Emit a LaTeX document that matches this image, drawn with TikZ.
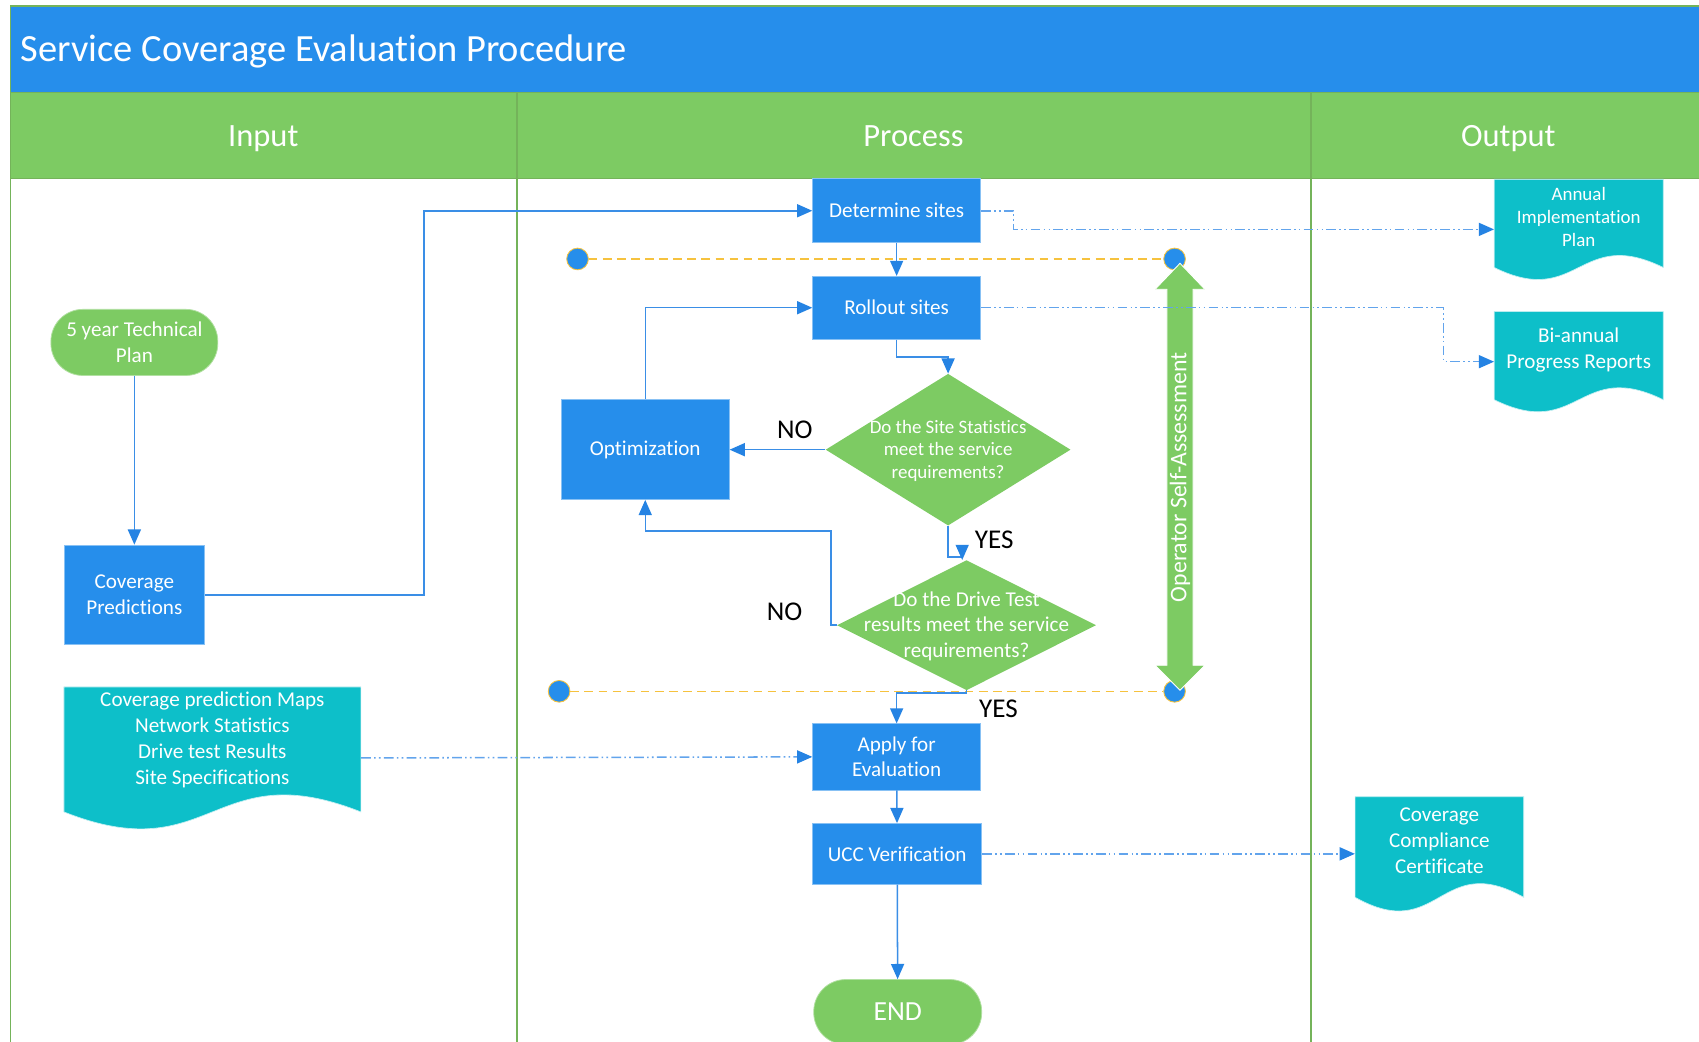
\documentclass[tikz,border=0pt]{standalone}
\usepackage{fontspec}
\setmainfont{Carlito}[Ligatures=NoCommon]
\usetikzlibrary{arrows.meta,shapes.geometric,calc}
\definecolor{cBlue}{HTML}{268EEB}
\definecolor{cGreen}{HTML}{7DCB63}
\definecolor{cTeal}{HTML}{0DBFC9}
\definecolor{cLine}{HTML}{3A8EE6}
\definecolor{cArrow}{HTML}{2583E3}
\definecolor{cLight}{HTML}{62A4EC}
\definecolor{cYellow}{HTML}{F6C23E}
\definecolor{cFrame}{HTML}{74B35A}
\newcommand\fsz[2]{\fontsize{#1}{#2}\selectfont}
\newcommand\docshape[5]{%
  \node[docbox, minimum width=#4pt, minimum height=#5pt] (#1) at (#2,#3) {};
  \fill[cTeal, draw=white!75!cTeal, line width=0.6pt]
    ({#2-#4/2},{#3-#5/2}) -- ({#2+#4/2},{#3-#5/2}) -- ({#2+#4/2},{#3+#5/2-0.12*#5})
    .. controls ({#2},{#3+#5/2-0.12*#5-0.415*#5}) and ({#2},{#3+#5/2-0.12*#5+0.415*#5})
    .. ({#2-#4/2},{#3+#5/2-0.12*#5}) -- cycle;
}
\begin{document}
\begin{tikzpicture}[x=1pt,y=-1pt,
  box/.style={rectangle, fill=cBlue, draw=cBlue!55!white, line width=0.7pt, text=white, align=center, inner sep=0pt, font=\fsz{19.5}{23.5}},
  term/.style={rectangle, rounded corners=29.5pt, fill=cGreen, draw=cGreen!60!white, line width=0.7pt, text=white, align=center, inner sep=0pt, font=\fsz{19.5}{23.5}},
  dia/.style={diamond, fill=cGreen, draw=none, inner sep=0pt},
  dtext/.style={text=white, align=center, inner sep=0pt},
  docbox/.style={rectangle, inner sep=0pt, draw=none},
  doctext/.style={text=white, align=center, inner sep=0pt, font=\fsz{19.5}{24}},
  conn/.style={draw=cLine, line width=1.4pt, -{Triangle[length=14pt,width=12pt,color=cArrow]}},
  ddot/.style={draw=cLight, line width=1.4pt, dash pattern=on 9pt off 3pt on 1.5pt off 3pt on 1.5pt off 3pt, -{Triangle[length=14pt,width=12pt,color=cArrow]}},
  ydash/.style={draw=cYellow, line width=1.4pt, dash pattern=on 8pt off 5pt},
  dot/.style={circle, fill=cBlue, draw=cYellow, line width=0.8pt, minimum size=20pt, inner sep=0pt},
  lbl/.style={text=black, font=\fsz{25}{30}, inner sep=0pt, anchor=base},
  hdr/.style={text=white, font=\fsz{30}{36}, inner sep=0pt, anchor=base},
  frame/.style={draw=cFrame, line width=1.2pt},
]
\useasboundingbox (0,0) rectangle (1568,961);
\clip (0,0) rectangle (1568,961);
\fill[white] (0,0) rectangle (1568,961);
% lanes
\fill[cBlue] (9.5,5.5) rectangle (1570,85.5);
\fill[cGreen] (9.5,85.5) rectangle (1570,165);
\draw[frame] (9.5,5.5) -- (1570,5.5);
\draw[frame] (9.5,85.5) -- (1570,85.5);
\draw[frame] (9.5,165) -- (1570,165);
\draw[frame] (10,5) -- (10,965);
\draw[frame] (477,85.5) -- (477,965);
\draw[frame] (1210,85.5) -- (1210,965);
\node[anchor=base west, text=white, font=\fsz{35.5}{42}, inner sep=0pt] (title) at (19,57) {Service Coverage Evaluation Procedure};
\node[hdr] (hin) at (243,135.4) {Input};
\node[hdr] (hpr) at (843,135.4) {Process};
\node[hdr] (hout) at (1392,135.4) {Output};

% self-assessment markers
\node[dot] (c1) at (533,239) {};
\node[dot] (c2) at (1084,239) {};
\node[dot] (c3) at (516,638) {};
\node[dot] (c4) at (1084,638) {};
\draw[ydash] (c1) -- (c2);
\draw[ydash] (c3) -- (c4);
\fill[cGreen, draw=white, line width=0.8pt] (1089,243) -- (1112,267) -- (1101,267) -- (1101,614) -- (1112,614) -- (1089,637) -- (1066,614) -- (1077,614) -- (1077,267) -- (1066,267) -- cycle;
\node[rotate=90, text=white, font=\fsz{22}{26}, inner sep=0pt] (osa) at (1089,440.5) {Operator Self-Assessment};

% input lane
\node[term, minimum width=154pt, minimum height=61pt] (tp) at (124,316) {5 year Technical\\Plan};
\node[box, minimum width=130pt, minimum height=92pt] (cp) at (124,549) {Coverage\\Predictions};
\docshape{inp}{196}{699.5}{274}{131}
\node[doctext] (inpt) at (196,683) {Coverage prediction Maps\\Network Statistics\\Drive test Results\\Site Specifications};

% process lane
\node[box, minimum width=155pt, minimum height=59pt] (ds) at (827.5,194.5) {Determine sites};
\node[box, minimum width=155pt, minimum height=58pt] (ro) at (827.5,284) {Rollout sites};
\node[box, minimum width=155pt, minimum height=92pt] (opt) at (595.5,415) {Optimization};
\node[dia, minimum width=226pt, minimum height=140pt] (d1) at (875,415) {};
\node[dtext, font=\fsz{17.5}{21}] (d1t) at (875,416) {Do the Site Statistics\\meet the service\\requirements?};
\node[dia, minimum width=239pt, minimum height=120pt] (d2) at (892,577) {};
\node[dtext, font=\fsz{19.5}{23.4}] (d2t) at (892,578) {Do the Drive Test\\results meet the service\\requirements?};
\node[box, minimum width=155pt, minimum height=61pt] (ap) at (827.5,698.5) {Apply for\\Evaluation};
\node[box, minimum width=156pt, minimum height=56pt] (ucc) at (828,788) {UCC Verification};
\node[term, minimum width=155pt, minimum height=60pt, font=\fsz{25.5}{30}] (end) at (828.5,934) {END};

% output lane
\docshape{ann}{1457}{211.7}{156}{92.5}
\node[doctext, font=\fsz{17.5}{21.2}] (annt) at (1457,200.5) {Annual\\Implementation\\Plan};
\docshape{bi}{1457}{333.8}{156}{92.4}
\node[doctext] (bit) at (1457,323) {Bi-annual\\Progress Reports};
\docshape{cert}{1328.4}{788}{155.6}{105.5}
\node[doctext, font=\fsz{19.5}{23.7}] (certt) at (1328.4,776) {Coverage\\Compliance\\Certificate};

% labels
\node[lbl] (no1) at (733.6,404.5) {NO};
\node[lbl] (yes1) at (917.5,506) {YES};
\node[lbl] (no2) at (724,572.8) {NO};
\node[lbl] (yes2) at (921.4,662) {YES};

% connectors
\draw[conn] (tp) -- (cp);
\draw[conn] (cp.east) -- ++(202,0) |- (ds.west);
\draw[conn] (ds) -- (ro);
\draw[conn] (ro.south) -- ++(0,16) -| (d1.north);
\draw[conn] (d1.west) -- (opt.east);
\draw[conn] (opt.north) |- (ro.west);
\draw[conn] (d1.south) -- ++(0,29) -| ([xshift=-4pt]d2.north);
\draw[conn] (d2.west) -- ++(-5.5,0) -- ++(0,-87) -| (opt.south);
\draw[conn] (d2.south) -- ++(0,2.5) -| (ap.north);
\draw[conn] (ap) -- (ucc);
\draw[conn] (ucc) -- (end);
\draw[ddot] (ds.east) -- ++(30,0) |- (ann.west);
\draw[ddot] (ro.east) -- ++(427,0) |- (bi.west);
\draw[ddot] (inp.east) -- (ap.west);
\draw[ddot] (ucc.east) -- (cert.west);
\end{tikzpicture}
\end{document}
